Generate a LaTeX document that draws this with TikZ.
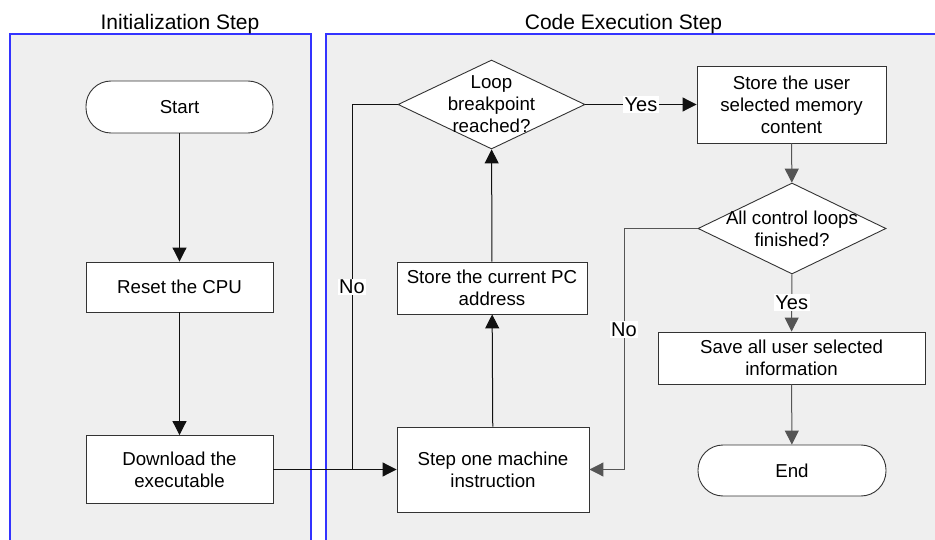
\documentclass[tikz,border=0pt]{standalone}
\usepackage{fontspec}
\setmainfont{Liberation Sans}
\usetikzlibrary{shapes.geometric,arrows.meta}
\definecolor{lanefill}{HTML}{EFEFEF}
\definecolor{laneline}{HTML}{3333FF}
\definecolor{edge}{HTML}{333333}
\definecolor{flow}{HTML}{111111}
\definecolor{flowgray}{HTML}{555555}

\begin{document}
\begin{tikzpicture}[x=1pt,y=-1pt,
  every node/.style={font=\fontsize{18.7}{22}\selectfont},
  lane/.style={draw=laneline, line width=1.2pt, fill=lanefill},
  header/.style={font=\fontsize{21}{25}\selectfont, anchor=base},
  process/.style={draw=edge, fill=white, line width=0.9pt, align=center, inner sep=0pt},
  terminal/.style={process, rounded corners=25pt},
  decision/.style={draw=edge, fill=white, line width=0.9pt, diamond, inner sep=0pt},
  flowline/.style={draw=flow, line width=1pt},
  flowarrow/.style={flowline, -{Triangle[length=14pt,width=14pt]}},
  tag/.style={fill=white, inner sep=1.5pt, font=\fontsize{20}{24}\selectfont}
]
\useasboundingbox (0,0) rectangle (935,540);
\clip (0,0) rectangle (935,540);
\fill[white] (0,0) rectangle (935,540);

% swimlanes
\draw[lane] (10,34) rectangle (311,560);
\draw[lane] (326,34) rectangle (960,560);
\node[header] (h1) at (180,30) {Initialization Step};
\node[header] (h2) at (623.5,30) {Code Execution Step};

% initialization lane
\node[terminal, minimum width=187pt, minimum height=52pt] (start) at (179.5,107) {Start};
\node[process, minimum width=187pt, minimum height=50pt] (reset) at (179.5,287) {Reset the CPU};
\node[process, minimum width=187pt, minimum height=68pt] (download) at (179.5,469.5) {Download the\\executable};

% code execution lane
\node[process, minimum width=192pt, minimum height=85pt] (step) at (493,469.5) {Step one machine\\instruction};
\node[process, minimum width=190pt, minimum height=52pt] (pc) at (492,288) {Store the current PC\\address};
\node[decision, minimum width=187pt, minimum height=89pt,
      label={[align=center]center:{Loop\\breakpoint\\reached?}}] (loop) at (491.5,104.5) {};
\node[process, minimum width=189pt, minimum height=77pt] (store) at (791.5,104.5) {Store the user\\selected memory\\content};
\node[decision, minimum width=188pt, minimum height=91pt,
      label={[align=center]center:{All control loops\\finished?}}] (done) at (792,228.5) {};
\node[process, minimum width=267pt, minimum height=52pt] (save) at (791.5,358) {Save all user selected\\information};
\node[terminal, minimum width=188pt, minimum height=51pt] (end) at (792,470.5) {End};

\coordinate (join) at (352,469.5);
\coordinate (bend) at (624,469.5);

% connectors
\draw[flowarrow] (start) -- (reset);
\draw[flowarrow] (reset) -- (download);
\draw[flowarrow] (download) -- (step);
\draw[flowarrow] (step) -- (pc);
\draw[flowarrow] (pc) -- (loop);
\draw[flowline] (loop.west) -| node[tag, pos=0.75] {No} (join);
\draw[flowarrow] (loop) -- node[tag] {Yes} (store);
\draw[flowarrow, draw=flowgray] (store) -- (done);
\draw[flowarrow, draw=flowgray] (done) -- node[tag] {Yes} (save);
\draw[flowarrow, draw=flowgray] (save) -- (end);
\draw[flowarrow, draw=flowgray] (done.west) -| node[tag, pos=0.71] {No} (bend) -- (step.east);
\end{tikzpicture}
\end{document}
